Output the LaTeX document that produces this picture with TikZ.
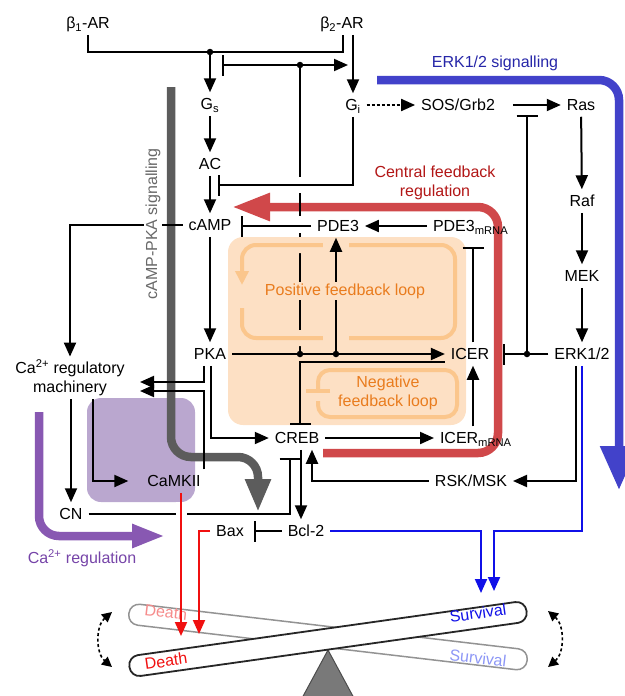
\documentclass[tikz,border=0pt]{standalone}
\usepackage{fontspec}
\setmainfont{Liberation Sans}
\usetikzlibrary{arrows.meta,positioning}

\definecolor{boxorange}{RGB}{253,224,196}
\definecolor{looporange}{RGB}{251,198,140}
\definecolor{txtorange}{RGB}{233,124,30}
\definecolor{boxpurple}{RGB}{186,167,207}
\definecolor{pathpurple}{RGB}{136,88,178}
\definecolor{txtpurple}{RGB}{118,68,168}
\definecolor{pathgray}{RGB}{92,92,92}
\definecolor{txtgray}{RGB}{105,105,105}
\definecolor{pathred}{RGB}{208,72,74}
\definecolor{txtred}{RGB}{178,22,22}
\definecolor{pathblue}{RGB}{66,66,202}
\definecolor{txtblue}{RGB}{38,38,168}
\definecolor{linered}{RGB}{240,16,16}
\definecolor{lineblue}{RGB}{16,16,232}
\definecolor{deathpale}{RGB}{246,140,140}
\definecolor{survpale}{RGB}{140,150,246}

\begin{document}
\begin{tikzpicture}[x=1pt, y=-1pt,
  every node/.style={font=\fontsize{16}{19}\selectfont},
  mol/.style={text height=11.5pt, text depth=0pt, inner sep=3pt, outer sep=3pt},
  wire/.style={line width=2pt},
  act/.style={wire, -{Triangle[width=12pt,length=14pt]}},
  inh/.style={wire, -{Bar[width=21pt]}},
  redarr/.style={act, linered},
  bluearr/.style={act, lineblue},
  dot/.style={circle, fill, inner sep=0pt, minimum size=6.5pt},
  pathway/.style={line width=8.5pt, rounded corners=20pt},
  fbloop/.style={draw=looporange, line width=4pt, rounded corners=14pt},
  beam/.style={fill=white, rounded corners=10pt, minimum width=401pt, minimum height=21pt, inner sep=0pt},
  swing/.style={dash pattern=on 3pt off 2.5pt, line width=1.6pt, {Triangle[width=10pt,length=10pt]}-{Triangle[width=10pt,length=10pt]}}]

  \useasboundingbox (0,0) rectangle (624,696);

  % Shaded regions
  \fill[boxorange, rounded corners=15pt] (228,237) rectangle (466,425);
  \fill[boxpurple, rounded corners=14pt] (87,398) rectangle (195,502);

  % Pathway arrows
  \draw[pathway, pathgray, -{Triangle[width=24pt,length=33pt]}] (171,87) |- (258,457) -- (258,512);
  \draw[pathway, pathblue, -{Triangle[width=36pt,length=44pt]}] (377,80) -| (619,490);
  \draw[pathway, pathred, -{Triangle[width=26pt,length=38pt]}] (323,453) -| (498,207) -- (232,207);
  \draw[pathway, pathpurple, -{Triangle[width=22pt,length=33pt]}] (39,412) |- (165,536);

  % Balance
  \node[beam, draw=gray!85, line width=1.5pt, rotate=-6.7] (beamB) at (328,637) {};
  \draw[fill=gray!95!black, draw=black!70, line width=1pt] (328,650) -- (355,700) -- (301,700) -- cycle;
  \node[beam, draw=black!85, line width=1.8pt, rotate=8] (beamA) at (328,639) {};
  \node[rotate=-6.7, text=deathpale] (deathB) at (166,612) {Death};
  \node[rotate=-6.7, text=survpale] (survB) at (478,658) {Survival};
  \node[rotate=8, text=linered] (deathA) at (166,661) {Death};
  \node[rotate=8, text=lineblue] (survA) at (478,613) {Survival};
  \draw[swing] (112,612) to[bend right=50] (112,667);
  \draw[swing] (548,611) to[bend left=50] (548,667);

  % Receptors and G proteins
  \node[mol] (b1) at (88,23) {β\textsubscript{1}-AR};
  \node[mol] (b2) at (342,23) {β\textsubscript{2}-AR};
  \node[mol] (Gs) at (210,104) {G\textsubscript{s}};
  \node[mol] (Gi) at (353,105) {G\textsubscript{i}};
  \node[mol] (AC) at (210,164) {AC};
  \node[mol] (cAMP) at (210,225) {cAMP};
  \node[mol] (PKA) at (210,354) {PKA};

  % ERK column
  \node[mol] (sos) at (458,105) {SOS/Grb2};
  \node[mol] (Ras) at (581,105) {Ras};
  \node[mol] (Raf) at (582,201) {Raf};
  \node[mol] (MEK) at (582,276) {MEK};
  \node[mol] (ERK) at (582,354) {ERK1/2};
  \node[mol] (RSK) at (471,481) {RSK/MSK};

  % Feedback block
  \node[mol] (PDE3) at (338,226) {PDE3};
  \node[mol, anchor=west] (pde3m) at (427,226) {PDE3\textsubscript{mRNA}};
  \node[mol] (ICER) at (470,354) {ICER};
  \node[mol] (CREB) at (297,438) {CREB};
  \node[mol, anchor=west] (icerm) at (434,438) {ICER\textsubscript{mRNA}};

  % Calcium and outputs
  \node[align=center, inner sep=3pt] (camach) at (70,378) {Ca\textsuperscript{2+} regulatory\\machinery};
  \node[mol] (CaMKII) at (174,481) {CaMKII};
  \node[mol] (CN) at (71,514) {CN};
  \node[mol] (Bcl) at (306,531) {Bcl-2};
  \node[mol] (Bax) at (230,531) {Bax};

  % Junctions and line ends
  \coordinate (j1) at (210,52);
  \coordinate (j2) at (300,65);
  \coordinate (j3) at (300,354);
  \coordinate (j4) at (336,354);
  \coordinate (j5) at (527,354);
  \coordinate (k1) at (218,185);
  \coordinate (k2) at (222,65);
  \coordinate (k3) at (348,65);
  \coordinate (k4) at (241,226);
  \coordinate (k5) at (473,247);
  \coordinate (k6) at (300,425);
  \coordinate (k7) at (503,354);
  \coordinate (k8) at (527,115);
  \coordinate (k9) at (140,382);
  \coordinate (k10) at (140,391);
  \coordinate (k11) at (494,531);
  \coordinate (d1) at (181,636);
  \coordinate (d2) at (199,634);
  \coordinate (s1) at (481,593);
  \coordinate (s2) at (494,591);

  % PKA line behind the loops
  \draw[wire] (j2) -- (300,177);
  \draw[wire] (300,193) -- (300,216);
  \draw[wire] (300,233) -- (j3);

  % Feedback loops
  \draw[fbloop, -{Triangle[width=13pt,length=14pt]}, preaction={draw=boxorange, line width=16pt, -}]
    (242,308) -- (242,338) -- (455,338) -- (455,245) -- (242,245) -- (242,285);
  \draw[fbloop, rounded corners=12pt, -{Bar[width=24pt]}]
    (318,401) -- (318,417) -- (457,417) -- (457,370) -- (318,370) -- (318,393);
  \draw[act, preaction={draw=boxorange, line width=26pt, -}] (j4) -- (j4 |- PDE3.south);

  % Vertical arrows
  \draw[wire] (b1) |- (j1) -| ([xshift=1pt]b2.south);
  \draw[act] (j1) -- (Gs);
  \draw[act] ([xshift=11pt]b2.south) -- ([xshift=11pt]b2.south |- Gi.north);
  \draw[act] (Gs) -- (AC);
  \draw[act] (AC) -- (cAMP);
  \draw[act] (cAMP) -- (PKA);
  \draw[act] (Ras) -- (Raf);
  \draw[act] (Raf) -- (MEK);
  \draw[act] (MEK) -- (ERK);
  \draw[act] (icerm.north -| k5) -- (ICER.south -| k5);
  \draw[act] ([xshift=4pt]CREB.south) -- ([xshift=4pt]CREB.south |- Bcl.north);
  \draw[act] (camach.south -| CN) -- (CN);

  % Horizontal arrows
  \draw[act, dash pattern=on 3pt off 2pt] (Gi) -- (sos);
  \draw[act, shorten <=12pt] (sos) -- (Ras);
  \draw[act] (j2) -- (k3);
  \draw[act] (pde3m) -- (PDE3);
  \draw[act] (PKA) -- (ICER);
  \draw[act] (CREB) -- (icerm);

  % Elbow arrows
  \draw[act] ([xshift=-6pt]ERK.south) |- (RSK);
  \draw[act] (RSK) -| ([xshift=15pt]CREB.south);
  \draw[act] ([xshift=-6pt]PKA.south) |- (k9);
  \draw[act] ([xshift=1pt]PKA.south) |- (CREB);
  \draw[act] ([xshift=30pt]CaMKII.north) |- (k10);
  \draw[act] (cAMP) -| (camach);
  \draw[act, shorten >=13pt] ([xshift=23pt]camach.south) |- (CaMKII);

  % Inhibitions
  \draw[inh] (Gi) |- (k1);
  \draw[inh] (j2) -- (k2);
  \draw[inh] (PDE3) -- (k4);
  \draw[inh] (ICER.north -| k5) -- (k5);
  \draw[inh] ([yshift=-8pt]ICER.west) -| (k6);
  \draw[inh] (ERK) -- (k7);
  \draw[inh] (j5) -- (k8);
  \draw[inh, shorten >=4pt] (Bcl) -- (Bax);
  \draw[inh, shorten >=8pt] (CN) -| ([xshift=-7pt]CREB.south);

  \node[dot] at (j1) {};
  \node[dot] at (j2) {};
  \node[dot] at (j3) {};
  \node[dot] at (j4) {};
  \node[dot] at (j5) {};

  % Death and survival
  \draw[redarr, preaction={draw=white, line width=11pt, -, shorten <=9pt, shorten >=40pt}] (CaMKII.south -| d1) -- (d1);
  \draw[redarr] (Bax) -| (d2);
  \draw[bluearr] (Bcl) -| (s1);
  \draw[bluearr] (ERK) |- (k11) -- (s2);

  % Labels
  \node[rotate=90, text=txtgray, fill=white, inner sep=2pt] (lblpka) at (153,224) {cAMP-PKA signalling};
  \node[text=txtblue] (lblerk) at (495,63) {ERK1/2 signalling};
  \node[text=txtred, align=center] (lblcentral) at (435,183) {Central feedback\\regulation};
  \node[text=txtorange, fill=boxorange, inner sep=2pt] (lblpos) at (345,291) {Positive feedback loop};
  \node[text=txtorange, align=center] (lblneg) at (388,393) {Negative\\feedback loop};
  \node[text=txtpurple] (lblca) at (82,558) {Ca\textsuperscript{2+} regulation};

\end{tikzpicture}
\end{document}
